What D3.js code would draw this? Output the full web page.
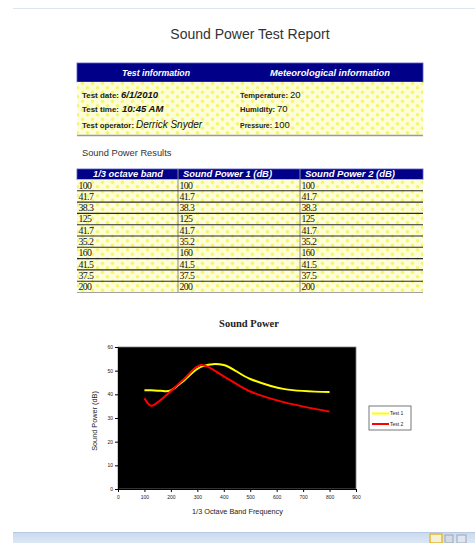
<!DOCTYPE html>
<html>
<head>
<meta charset="utf-8">
<script src="https://cdn.jsdelivr.net/npm/d3@7"></script>
<style>
  html, body { margin: 0; padding: 0; background: #fff; }
  svg { display: block; font-family: "Liberation Sans", Arial, sans-serif; }
</style>
</head>
<body>
<svg id="page" width="475" height="543"></svg>
<script>
// Report content
const reportTitle = "Sound Power Test Report";
const infoHeaders = ["Test information", "Meteorological information"];
const testInfoLabels = ["Test date:", "Test time:", "Test operator:"];
const testInfoValues = ["6/1/2010", "10:45 AM", "Derrick Snyder"];
const meteoLabels = ["Temperature:", "Humidity:", "Pressure:"];
const meteoValues = ["20", "70", "100"];

// Results table
const resultsCaption = "Sound Power Results";
const tableHeaders = ["1/3 octave band", "Sound Power 1 (dB)", "Sound Power 2 (dB)"];
const tableRows = ["100", "41.7", "38.3", "125", "41.7", "35.2", "160", "41.5", "37.5", "200"];

// Chart data
const chartTitle = "Sound Power";
const bands = [100, 125, 160, 200, 250, 315, 400, 500, 630, 800];
const test1 = [41.7, 41.7, 41.5, 41.7, 45.9, 51.7, 52.4, 46.5, 42.2, 41.0];
const test2 = [38.3, 35.2, 37.5, 41.4, 46.5, 52.4, 47.6, 41.2, 36.6, 32.7];
const seriesNames = ["Test 1", "Test 2"];
const seriesColors = ["#ffff00", "#ff0000"];
const xTicks = [0, 100, 200, 300, 400, 500, 600, 700, 800, 900];
const yTicks = [0, 10, 20, 30, 40, 50, 60];

const svg = d3.select("#page");
const defs = svg.append("defs");

// Light yellow dotted fill used behind table bodies
const pat = defs.append("pattern").attr("id", "dots")
  .attr("patternUnits", "userSpaceOnUse").attr("width", 10).attr("height", 9);
pat.append("rect").attr("width", 10).attr("height", 9).attr("fill", "#fdfdd8");
pat.append("circle").attr("cx", 2.5).attr("cy", 2.2).attr("r", 1.7).attr("fill", "#f6f66a");
pat.append("circle").attr("cx", 7.5).attr("cy", 6.7).attr("r", 1.7).attr("fill", "#f6f66a");

const grad = defs.append("linearGradient").attr("id", "bar").attr("x1", 0).attr("y1", 0).attr("x2", 0).attr("y2", 1);
grad.append("stop").attr("offset", "0%").attr("stop-color", "#c9d9ee");
grad.append("stop").attr("offset", "100%").attr("stop-color", "#dce7f5");

// Viewer frame: top rule and bottom status strip
svg.append("line").attr("x1", 13).attr("x2", 475).attr("y1", 8.5).attr("y2", 8.5)
  .attr("stroke", "#dde6f5").attr("stroke-width", 1);
svg.append("rect").attr("x", 13).attr("y", 532).attr("width", 462).attr("height", 11).attr("fill", "url(#bar)");
svg.append("line").attr("x1", 13).attr("x2", 475).attr("y1", 532.5).attr("y2", 532.5).attr("stroke", "#b7c9e2");
svg.append("rect").attr("x", 430).attr("y", 534).attr("width", 12).attr("height", 9).attr("fill", "#f5f0d8")
  .attr("stroke", "#e8b830").attr("stroke-width", 1.5);
svg.append("rect").attr("x", 445).attr("y", 535).attr("width", 8).attr("height", 8).attr("fill", "#d3dbe6").attr("stroke", "#9aa6b5");
svg.append("rect").attr("x", 457).attr("y", 535).attr("width", 9).attr("height", 8).attr("fill", "#dfe6ef").attr("stroke", "#9aa6b5");

// Report title
svg.append("text").attr("x", 250).attr("y", 38.5).attr("text-anchor", "middle")
  .attr("font-size", 14).attr("fill", "#333").text(reportTitle);

// Information table
const tX = 77, tW = 346;
svg.append("rect").attr("x", tX).attr("y", 63).attr("width", tW).attr("height", 19)
  .attr("fill", "#000088").attr("stroke", "#5a5ac8").attr("stroke-width", 0.8);
svg.append("rect").attr("x", tX).attr("y", 82).attr("width", tW).attr("height", 53).attr("fill", "url(#dots)");
svg.append("line").attr("x1", tX).attr("x2", tX + tW).attr("y1", 135.5).attr("y2", 135.5)
  .attr("stroke", "#9a9a9a").attr("stroke-width", 1.5);
const infoHeadX = [156, 330], infoHeadW = [68, 120];
svg.selectAll("text.ih").data(infoHeaders).join("text").attr("class", "ih")
  .attr("x", (d, i) => infoHeadX[i] - infoHeadW[i] / 2).attr("y", 76)
  .attr("textLength", (d, i) => infoHeadW[i]).attr("lengthAdjust", "spacingAndGlyphs")
  .attr("font-size", 9.5).attr("font-weight", "bold").attr("font-style", "italic")
  .attr("fill", "#fff").text(d => d);

const rowY = [97.5, 112, 128];
const valueX = [121, 122, 136];
const testLabelW = [37, 37, 52];
testInfoLabels.forEach((lab, i) => {
  svg.append("text").attr("x", 82).attr("y", rowY[i]).attr("font-size", 6.8).attr("font-weight", "bold")
    .attr("textLength", testLabelW[i]).attr("lengthAdjust", "spacingAndGlyphs")
    .attr("fill", "#222").text(lab);
  svg.append("text").attr("x", valueX[i]).attr("y", rowY[i]).attr("font-size", i === 2 ? 10 : 9.5)
    .attr("font-weight", i === 2 ? "normal" : "bold").attr("font-style", "italic")
    .attr("fill", "#111").text(testInfoValues[i]);
});
const meteoValX = [290, 277, 274];
const meteoLabelW = [48, 35, 32];
meteoLabels.forEach((lab, i) => {
  svg.append("text").attr("x", 240).attr("y", rowY[i]).attr("font-size", 6.8).attr("font-weight", "bold")
    .attr("textLength", meteoLabelW[i]).attr("lengthAdjust", "spacingAndGlyphs")
    .attr("fill", "#222").text(lab);
  svg.append("text").attr("x", meteoValX[i]).attr("y", rowY[i]).attr("font-size", 9.5)
    .attr("fill", "#111").text(meteoValues[i]);
});

// Results caption and table
svg.append("text").attr("x", 82).attr("y", 156).attr("font-size", 9.3).attr("fill", "#333").text(resultsCaption);

const colX = [77, 178, 300, 423];
const headCX = [128, 227.5, 350], headW = [70, 89, 90];
const headTop = 169, headH = 10.5, rowH = 11.3;
const bodyTop = headTop + headH;
svg.append("rect").attr("x", tX).attr("y", headTop).attr("width", tW).attr("height", headH)
  .attr("fill", "#000088").attr("stroke", "#5a5ac8").attr("stroke-width", 0.8);
svg.append("rect").attr("x", tX).attr("y", bodyTop).attr("width", tW).attr("height", rowH * tableRows.length)
  .attr("fill", "url(#dots)");
tableHeaders.forEach((h, i) => {
  svg.append("text").attr("x", headCX[i] - headW[i] / 2).attr("y", headTop + 8.3)
    .attr("textLength", headW[i]).attr("lengthAdjust", "spacingAndGlyphs")
    .attr("font-size", 9).attr("font-weight", "bold")
    .attr("font-style", "italic").attr("fill", "#fff").text(h);
});
// column separators
[colX[1], colX[2]].forEach(x => {
  svg.append("line").attr("x1", x).attr("x2", x).attr("y1", headTop).attr("y2", bodyTop + rowH * tableRows.length)
    .attr("stroke", "#8a8a8a").attr("stroke-width", 1);
});
tableRows.forEach((v, r) => {
  const y = bodyTop + r * rowH;
  svg.append("line").attr("x1", tX).attr("x2", tX + tW).attr("y1", y + rowH).attr("y2", y + rowH)
    .attr("stroke", r === tableRows.length - 1 ? "#a0a0a0" : "#2a2a2a").attr("stroke-width", 1.1);
  for (let c = 0; c < 3; c++) {
    svg.append("text").attr("x", colX[c] + 1.5).attr("y", y + 9)
      .attr("font-family", "'Liberation Serif', serif").attr("font-size", 9.8)
      .attr("fill", "#111").attr("letter-spacing", -0.6).text(v);
  }
});

// Chart
const plot = { left: 118, right: 356, top: 347, bottom: 489 };
const x = d3.scaleLinear().domain([0, 900]).range([plot.left, plot.right]);
const y = d3.scaleLinear().domain([0, 60]).range([plot.bottom, plot.top]);

svg.append("text").attr("x", 249).attr("y", 327).attr("text-anchor", "middle")
  .attr("font-family", "'Liberation Serif', serif").attr("font-size", 10.5).attr("font-weight", "bold")
  .attr("fill", "#222").text(chartTitle);

svg.append("rect").attr("x", plot.left).attr("y", plot.top)
  .attr("width", plot.right - plot.left).attr("height", plot.bottom - plot.top)
  .attr("fill", "#000").attr("stroke", "#808080").attr("stroke-width", 0.8);

const yAxis = svg.append("g").attr("transform", `translate(${plot.left},0)`)
  .call(d3.axisLeft(y).tickValues(yTicks).tickSize(3).tickPadding(2));
const xAxis = svg.append("g").attr("transform", `translate(0,${plot.bottom})`)
  .call(d3.axisBottom(x).tickValues(xTicks).tickSize(3).tickPadding(3));
[yAxis, xAxis].forEach(g => {
  g.select(".domain").attr("stroke", "#000").attr("stroke-width", 1);
  g.selectAll(".tick line").attr("stroke", "#000");
  g.selectAll(".tick text").attr("font-size", 5).attr("fill", "#222")
    .attr("font-family", "'Liberation Sans', Arial, sans-serif");
});

const line = d3.line().curve(d3.curveCardinal.tension(0))
  .x(d => x(d[0])).y(d => y(d[1]));
[test1, test2].forEach((vals, i) => {
  svg.append("path").datum(bands.map((b, j) => [b, vals[j]]))
    .attr("fill", "none").attr("stroke", seriesColors[i]).attr("stroke-width", 2)
    .attr("d", line);
});

svg.append("text").attr("transform", "translate(97,421) rotate(-90)").attr("text-anchor", "middle")
  .attr("font-size", 7.3).attr("fill", "#222").text("Sound Power (dB)");
svg.append("text").attr("x", 237.5).attr("y", 514).attr("text-anchor", "middle")
  .attr("font-size", 7.3).attr("fill", "#222").text("1/3 Octave Band Frequency");

// Legend
const lg = svg.append("g").attr("transform", "translate(369,406)");
lg.append("rect").attr("width", 42).attr("height", 24).attr("fill", "#fff")
  .attr("stroke", "#555").attr("stroke-width", 0.8);
seriesNames.forEach((n, i) => {
  const ly = 7.5 + i * 10.5;
  lg.append("line").attr("x1", 3).attr("x2", 20).attr("y1", ly).attr("y2", ly)
    .attr("stroke", seriesColors[i]).attr("stroke-width", 2);
  lg.append("text").attr("x", 21).attr("y", ly + 1.8).attr("font-size", 5).attr("fill", "#222").text(n);
});
</script>
</body>
</html>
